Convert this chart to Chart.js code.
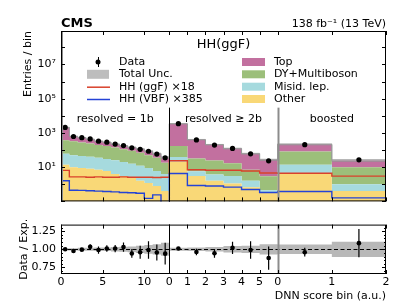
<!DOCTYPE html>
<html>
<head>
<meta charset="utf-8">
<script src="https://cdn.jsdelivr.net/npm/chart.js@4.4.0/dist/chart.umd.min.js"></script>
<style>
  body { margin: 0; background: #fff; }
  #wrap { position: relative; width: 407px; height: 305px; }
  #main { position: absolute; left: 0; top: 0; }
  #ratio { position: absolute; left: 0; top: 213px; }
</style>
</head>
<body>
<div id="wrap">
  <canvas id="main" width="407" height="213"></canvas>
  <canvas id="ratio" width="407" height="92"></canvas>
</div>
<script>
// categories, each one takes one unit on the shared x axis
const categories = ['resolved = 1b', 'resolved \u2265 2b', 'boosted'];
const nBins = [13, 6, 2];
const xTickLocal = [[0, 5, 10], [0, 1, 2, 3, 4, 5], [0, 1, 2]];

// stacked backgrounds (21 bins: 13 | 6 | 2)
const other = [14, 10, 9, 8, 7, 6, 4, 3, 2.5, 1.6, 1.2, 0.8, 0.4,
               21, 3, 1.6, 1.1, 0.68, 0.36,
               4.2, 0.4];
const misid = [46, 40, 36, 32, 28, 24, 21, 17, 13.5, 10.4, 7.8, 5.2, 3.6,
               18, 2.7, 2.1, 1.9, 0.92, 0.09,
               9.8, 0.6];
const dyMulti = [310, 280, 235, 200, 165, 140, 115, 90, 74, 58, 41, 29, 14,
                 135, 26, 21, 14, 5.4, 2.5,
                 67, 9];
const topBkg = [1730, 305, 248, 190, 133, 117, 82, 67, 53, 45, 36, 26, 19,
                3250, 373, 181, 105, 54, 24,
                134, 14.6];

// signals (scaled)
const hhGGF = [6.5, 2.7, 2.7, 2.6, 2.7, 2.6, 2.6, 2.7, 2.6, 2.6, 2.6, 2.5, 2.6,
               23.7, 7, 6.6, 6.6, 6, 4.6,
               4.4, 3.0];
const hhVBF = [1.6, 0.45, 0.44, 0.42, 0.4, 0.38, 0.36, 0.33, 0.32, 0.3, 0.15, 0.24, 0.01,
               4.3, 0.85, 0.8, 0.68, 0.5, 0.33,
               0.38, 0.16];

// observed
const obs = [2100, 620, 525, 445, 330, 290, 224, 182, 135, 110, 85, 58, 35,
             3460, 390, 195, 124, 60, 23.6,
             207, 26.7];

// ratio panel
const ratio    = [1.00, 0.977, 0.995, 1.034, 0.99, 1.01, 1.01, 1.03, 0.943, 0.96, 0.99, 0.955, 0.94,
                  1.01, 0.963, 0.945, 1.02, 0.99, 0.88,
                  0.96, 1.085];
const ratioErr = [0.01, 0.025, 0.02, 0.035, 0.05, 0.045, 0.05, 0.065, 0.06, 0.09, 0.12, 0.11, 0.15,
                  0.015, 0.045, 0.06, 0.085, 0.12, 0.16,
                  0.06, 0.195];
const uncRel   = [0.015, 0.015, 0.02, 0.02, 0.025, 0.025, 0.03, 0.035, 0.04, 0.05, 0.06, 0.07, 0.09,
                  0.02, 0.025, 0.03, 0.045, 0.05, 0.07,
                  0.066, 0.105];

const yTickVals = [10, 1e3, 1e5, 1e7];
const yTickLabels = ['10\u00b9', '10\u00b3', '10\u2075', '10\u2077'];
const rTickVals = [0.75, 1.0, 1.25];
const rTickLabels = ['0.75', '1.00', '1.25'];

const C = {
  top: '#c2709f', dy: '#9cbf7a', misid: '#a6dade', other: '#f9d877',
  ggf: '#d9412b', vbf: '#2443d6', unc: 'rgba(150,150,150,0.55)', band: '#b8b8b8'
};
const FONT = '"DejaVu Sans", sans-serif';
Chart.defaults.font.family = FONT;
Chart.defaults.color = '#000';

// bin edges on the shared axis
const edges = [];
nBins.forEach((n, s) => { for (let k = 0; k < n; k++) edges.push(s + k / n); });
edges.push(nBins.length);
const centers = edges.slice(0, -1).map((e, i) => (e + edges[i + 1]) / 2);
const xTickPos = [], xTickText = [];
xTickLocal.forEach((l, s) => l.forEach(v => { xTickPos.push(s + v / nBins[s]); xTickText.push(String(v)); }));

function steps(vals) {
  const pts = edges.slice(0, -1).map((x, i) => ({x: x, y: vals[i]}));
  pts.push({x: edges[edges.length - 1], y: vals[vals.length - 1]});
  return pts;
}
const total = other.map((v, i) => v + misid[i] + dyMulti[i] + topBkg[i]);

// stacking follows "order" (lowest at the bottom)
function bkg(label, vals, color, fill, order) {
  return {label: label, data: steps(vals), stepped: true, fill: fill, backgroundColor: color,
          borderWidth: 0, pointRadius: 0, stack: 'bkg', order: order};
}
function sig(label, vals, color, order) {
  return {label: label, data: steps(vals), stepped: true, fill: false, borderColor: color,
          borderWidth: 1.4, pointRadius: 0, stack: label, order: order};
}

const mainDeco = {
  id: 'mainDeco',
  afterDatasetsDraw(chart) {
    const {ctx, chartArea: a, scales: {x, y}} = chart;
    ctx.save();
    // category separators
    [0, 1, 2].forEach(b => {
      const px = b === 0 ? a.left + 1 : Math.round(x.getPixelForValue(b)) + 0.5;
      ctx.strokeStyle = b === 1 ? '#000' : '#8c8c8c';
      ctx.lineWidth = b === 1 ? 1 : 2;
      ctx.beginPath();
      ctx.moveTo(px, a.bottom);
      ctx.lineTo(px, b === 0 ? a.top : y.getPixelForValue(3e4));
      ctx.stroke();
    });
    // frame
    ctx.strokeStyle = '#000';
    ctx.lineWidth = 1;
    ctx.strokeRect(a.left + 0.5, a.top + 0.5, a.width - 1, a.height - 1);
    // inward ticks
    ctx.beginPath();
    xTickPos.forEach(v => {
      const px = Math.round(x.getPixelForValue(v)) + 0.5;
      ctx.moveTo(px, a.bottom); ctx.lineTo(px, a.bottom - 4);
      ctx.moveTo(px, a.top); ctx.lineTo(px, a.top + 4);
    });
    for (let e = -1; e <= 8; e++) {
      const py = Math.round(y.getPixelForValue(Math.pow(10, e))) + 0.5;
      ctx.moveTo(a.left, py); ctx.lineTo(a.left + 4, py);
      ctx.moveTo(a.right, py); ctx.lineTo(a.right - 4, py);
    }
    ctx.stroke();

    // texts
    ctx.fillStyle = '#000';
    ctx.textBaseline = 'alphabetic';
    ctx.font = 'bold 13px ' + FONT;
    ctx.textAlign = 'left';
    ctx.fillText('CMS', a.left, 27);
    ctx.font = '11px ' + FONT;
    ctx.textAlign = 'right';
    ctx.fillText('138 fb\u207b\u00b9 (13 TeV)', a.right, 27);
    ctx.textBaseline = 'middle';
    ctx.textAlign = 'center';
    ctx.font = '13px ' + FONT;
    ctx.fillText('HH(ggF)', (a.left + a.right) / 2, 45);
    ctx.font = '11px ' + FONT;
    categories.forEach((c, s) => ctx.fillText(c, x.getPixelForValue(s + 0.5), 119));

    // legend
    const ds = chart.data.datasets;
    const rows = [62, 74.3, 86.7, 99];
    ctx.textAlign = 'left';
    const left = [8, 5, 6, 7];
    left.forEach((idx, r) => {
      const d = ds[idx], yy = rows[r];
      if (idx === 8) {
        ctx.fillStyle = '#000';
        ctx.strokeStyle = '#000'; ctx.lineWidth = 1;
        ctx.beginPath(); ctx.arc(98, yy, 2.5, 0, Math.PI * 2); ctx.fill();
        ctx.beginPath(); ctx.moveTo(98.5, yy - 5); ctx.lineTo(98.5, yy + 5); ctx.stroke();
      } else if (idx === 5) {
        ctx.fillStyle = '#bdbdbd';
        ctx.fillRect(87, yy - 4.5, 22, 9);
      } else {
        ctx.strokeStyle = d.borderColor; ctx.lineWidth = 1.5;
        ctx.beginPath(); ctx.moveTo(87, yy + 0.5); ctx.lineTo(110, yy + 0.5); ctx.stroke();
      }
      ctx.fillStyle = '#000';
      ctx.fillText(d.label, 119, yy);
    });
    [3, 2, 1, 0].forEach((idx, r) => {
      const d = ds[idx], yy = rows[r];
      ctx.fillStyle = d.backgroundColor;
      ctx.fillRect(242, yy - 4, 23, 8);
      ctx.fillStyle = '#000';
      ctx.fillText(d.label, 274, yy);
    });
    ctx.restore();
  }
};

new Chart(document.getElementById('main'), {
  type: 'line',
  data: {
    datasets: [
      bkg('Other', other, C.other, 'start', 5),
      bkg('Misid. lep.', misid, C.misid, '-1', 6),
      bkg('DY+Multiboson', dyMulti, C.dy, '-1', 7),
      bkg('Top', topBkg, C.top, '-1', 8),
      {label: 'unc low', data: steps(total.map((t, i) => t * (1 - uncRel[i]))), stepped: true,
       fill: false, borderColor: 'rgba(150,150,150,0.8)', borderWidth: 1, pointRadius: 0, stack: 'ulo', order: 4},
      {label: 'Total Unc.', data: steps(total.map((t, i) => t * (1 + uncRel[i]))), stepped: true,
       fill: '-1', backgroundColor: C.unc, borderColor: 'rgba(150,150,150,0.8)', borderWidth: 1,
       pointRadius: 0, stack: 'uhi', order: 3},
      sig('HH (ggF) \u00d718', hhGGF, C.ggf, 2),
      sig('HH (VBF) \u00d7385', hhVBF, C.vbf, 1),
      {label: 'Data', data: obs.map((v, i) => ({x: centers[i], y: v})), showLine: false,
       pointRadius: 2.6, pointBackgroundColor: '#000', pointBorderWidth: 0, stack: 'data', order: 0}
    ]
  },
  options: {
    responsive: false,
    animation: false,
    layout: {padding: {top: 31, right: 21, bottom: 3, left: 0}},
    plugins: {legend: {display: false}, tooltip: {enabled: false}},
    scales: {
      x: {type: 'linear', min: 0, max: 3, display: false},
      y: {
        type: 'logarithmic', min: 0.1, max: 9e8, stacked: true,
        afterFit(s) { s.width = 61; },
        afterBuildTicks(s) { s.ticks = yTickVals.map(v => ({value: v})); },
        ticks: {callback: v => yTickLabels[yTickVals.indexOf(v)], font: {size: 11}, padding: 5},
        grid: {display: false, drawTicks: false},
        border: {display: false},
        title: {display: true, text: 'Entries / bin', align: 'end', font: {size: 11},
                padding: {top: 21.5, bottom: 0}}
      }
    }
  },
  plugins: [mainDeco]
});

const ratioDeco = {
  id: 'ratioDeco',
  afterDatasetDraw(chart, args) {
    if (args.index !== 1) return;
    const {ctx, chartArea: a, scales: {y}} = chart;
    ctx.save();
    ctx.strokeStyle = '#000';
    ctx.lineWidth = 1;
    ctx.setLineDash([4, 2.5]);
    const py = Math.round(y.getPixelForValue(1)) + 0.5;
    ctx.beginPath(); ctx.moveTo(a.left, py); ctx.lineTo(a.right, py); ctx.stroke();
    ctx.restore();
  },
  afterDatasetsDraw(chart) {
    const {ctx, chartArea: a, scales: {x, y}} = chart;
    ctx.save();
    // error bars
    ctx.strokeStyle = '#000';
    ctx.lineWidth = 1.2;
    ctx.beginPath();
    ratio.forEach((r, i) => {
      const px = x.getPixelForValue(centers[i]);
      ctx.moveTo(px, y.getPixelForValue(r - ratioErr[i]));
      ctx.lineTo(px, y.getPixelForValue(r + ratioErr[i]));
    });
    ctx.stroke();
    // separators
    [1, 2].forEach(b => {
      const px = Math.round(x.getPixelForValue(b)) + 0.5;
      ctx.strokeStyle = b === 1 ? '#000' : '#8c8c8c';
      ctx.lineWidth = b === 1 ? 1 : 2;
      ctx.beginPath(); ctx.moveTo(px, a.bottom); ctx.lineTo(px, a.top); ctx.stroke();
    });
    // frame and inward ticks
    ctx.strokeStyle = '#000';
    ctx.lineWidth = 1;
    ctx.strokeRect(a.left + 0.5, a.top + 0.5, a.width - 1, a.height - 1);
    ctx.beginPath();
    xTickPos.forEach(v => {
      const px = Math.round(x.getPixelForValue(v)) + 0.5;
      ctx.moveTo(px, a.bottom); ctx.lineTo(px, a.bottom - 4);
      ctx.moveTo(px, a.top); ctx.lineTo(px, a.top + 4);
    });
    for (let k = 14; k <= 26; k++) {
      const v = k * 0.05;
      const len = rTickVals.some(t => Math.abs(t - v) < 1e-6) ? 4 : 2;
      const py = Math.round(y.getPixelForValue(v)) + 0.5;
      ctx.moveTo(a.left, py); ctx.lineTo(a.left + len, py);
      ctx.moveTo(a.right, py); ctx.lineTo(a.right - len, py);
    }
    ctx.stroke();
    ctx.restore();
  }
};

new Chart(document.getElementById('ratio'), {
  type: 'line',
  data: {
    datasets: [
      {label: 'band low', data: steps(uncRel.map(u => 1 - u)), stepped: true, fill: false,
       borderWidth: 0, pointRadius: 0, order: 3},
      {label: 'band', data: steps(uncRel.map(u => 1 + u)), stepped: true, fill: '-1',
       backgroundColor: C.band, borderWidth: 0, pointRadius: 0, order: 2},
      {label: 'Data / Exp.', data: ratio.map((r, i) => ({x: centers[i], y: r})), showLine: false,
       pointRadius: 2.3, pointBackgroundColor: '#000', pointBorderWidth: 0, order: 0}
    ]
  },
  options: {
    responsive: false,
    animation: false,
    layout: {padding: {top: 1, right: 21, bottom: 0, left: 0}},
    plugins: {legend: {display: false}, tooltip: {enabled: false}},
    scales: {
      x: {
        type: 'linear', min: 0, max: 3,
        afterFit(s) { s.height = 31; },
        afterBuildTicks(s) { s.ticks = xTickPos.map(v => ({value: v})); },
        ticks: {callback: (v, i) => xTickText[i], font: {size: 11}, padding: 2,
                autoSkip: false, maxRotation: 0},
        grid: {display: false, drawTicks: false},
        border: {display: false},
        title: {display: true, text: 'DNN score bin (a.u.)', align: 'end', font: {size: 11},
                padding: {top: 0, bottom: 2.4}}
      },
      y: {
        min: 0.66, max: 1.34,
        afterFit(s) { s.width = 61; },
        afterBuildTicks(s) { s.ticks = rTickVals.map(v => ({value: v})); },
        ticks: {callback: v => rTickLabels[rTickVals.indexOf(v)], font: {size: 11}, padding: 5},
        grid: {display: false, drawTicks: false},
        border: {display: false},
        title: {display: true, text: 'Data / Exp.', font: {size: 11}, padding: {top: 17.4, bottom: 0}}
      }
    }
  },
  plugins: [ratioDeco]
});
</script>
</body>
</html>
